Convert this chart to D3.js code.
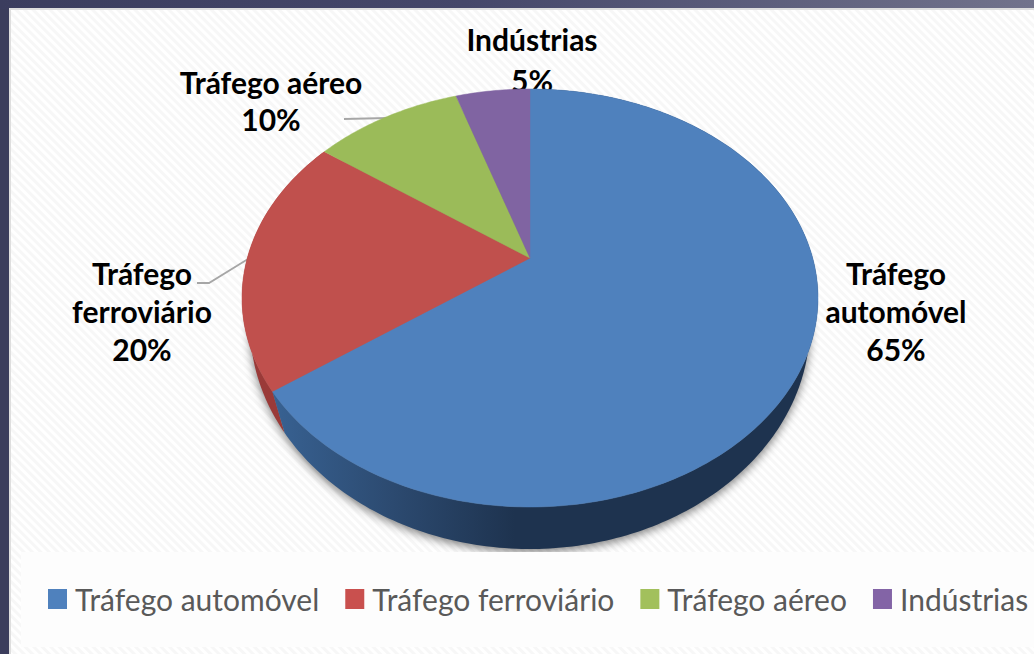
<!DOCTYPE html>
<html>
<head>
<meta charset="utf-8">
<script src="https://cdn.jsdelivr.net/npm/d3@7"></script>
<style>
  html, body { margin: 0; padding: 0; background: #3b3d5c; overflow: hidden; }
  text { font-family: Lato, "Open Sans", sans-serif; }
</style>
</head>
<body>
<div class="chart"></div>
<script>
const categories = ['Tráfego automóvel', 'Tráfego ferroviário', 'Tráfego aéreo', 'Indústrias'];
const shares = [65, 20, 10, 5];
const colors = ['#4f81bd', '#c0504d', '#9bbb59', '#8064a2'];
const legendColors = ['#4f81bd', '#c9504e', '#a2c05c', '#8364a6'];
const labelLines = [['Tráfego', 'automóvel'], ['Tráfego', 'ferroviário'], ['Tráfego aéreo'], ['Indústrias']];

const width = 1034;
const height = 654;

var svg = d3.select('.chart').append('svg')
  .attr('width', width)
  .attr('height', height)
  .style('display', 'block');

var defs = svg.append('defs');

// panel hatching
var hatch = defs.append('pattern')
  .attr('id', 'hatch')
  .attr('width', 6)
  .attr('height', 6)
  .attr('patternUnits', 'userSpaceOnUse')
  .attr('patternTransform', 'rotate(45)');
hatch.append('rect').attr('width', 6).attr('height', 6).attr('fill', '#ffffff');
hatch.append('rect').attr('width', 6).attr('height', 3).attr('fill', '#f7f7f7');

var topBand = defs.append('linearGradient').attr('id', 'topBand');
topBand.append('stop').attr('offset', '0%').attr('stop-color', '#3b3d5e');
topBand.append('stop').attr('offset', '45%').attr('stop-color', '#45476a');
topBand.append('stop').attr('offset', '100%').attr('stop-color', '#72738c');

var wallBlue = defs.append('linearGradient')
  .attr('id', 'wallBlue')
  .attr('gradientUnits', 'userSpaceOnUse')
  .attr('x1', 270).attr('x2', 515).attr('y1', 0).attr('y2', 0);
wallBlue.append('stop').attr('offset', '0%').attr('stop-color', '#386293');
wallBlue.append('stop').attr('offset', '50%').attr('stop-color', '#2c4a70');
wallBlue.append('stop').attr('offset', '100%').attr('stop-color', '#1e334f');

var blur = defs.append('filter').attr('id', 'blur')
  .attr('x', '-10%').attr('y', '-10%').attr('width', '120%').attr('height', '120%');
blur.append('feGaussianBlur').attr('stdDeviation', 5);

// background and panel
svg.append('rect').attr('width', width).attr('height', height).attr('fill', '#3b3d5c');
svg.append('rect').attr('width', width).attr('height', 9).attr('fill', 'url(#topBand)');
svg.append('rect').attr('x', 9).attr('y', 8).attr('width', width - 9).attr('height', height - 8).attr('fill', '#dedede');
svg.append('rect').attr('x', 11).attr('y', 10).attr('width', width - 11).attr('height', height - 10).attr('fill', 'url(#hatch)');

// scales from the unit disc to the ellipse of the top face and of the base
const xTop = d3.scaleLinear().domain([-1, 1]).range([242, 818]);
const yTop = d3.scaleLinear().domain([-1, 1]).range([89, 507]);
const xBase = d3.scaleLinear().domain([-1, 1]).range([250, 810]);
const yBase = d3.scaleLinear().domain([-1, 1]).range([101, 549]);
const color = d3.scaleOrdinal().domain(categories).range(colors);
const legendColor = d3.scaleOrdinal().domain(categories).range(legendColors);

// perspective: the centre of the pie sits above the centre of the ellipse
const tilt = 0.191;
// the seam on the wall leans a little towards the centre
const seamLean = 0.035;

function disc(angle) {
  var u = Math.sin(angle);
  var w = -Math.cos(angle);
  var d = 1 - tilt * w;
  return [u * Math.sqrt(1 - tilt * tilt) / d, (w - tilt) / d];
}

function rim(a0, a1, xs, ys) {
  var n = Math.max(2, Math.ceil((a1 - a0) * 60));
  return d3.range(n + 1).map(i => {
    var p = disc(a0 + (a1 - a0) * i / n);
    return [xs(p[0]), ys(p[1])];
  });
}

const line = d3.line();
const slices = d3.pie().sort(null).value(d => d)(shares);
const rimPoints = rim(0, 2 * Math.PI, xBase, yBase);

// shadow under the base
svg.append('path')
  .attr('d', line(rimPoints) + 'Z')
  .attr('transform', 'translate(0,3)')
  .attr('fill', '#000')
  .attr('opacity', 0.5)
  .attr('filter', 'url(#blur)');

// legend band hides the bottom of the shadow
svg.append('rect')
  .attr('x', 21).attr('y', 552)
  .attr('width', width - 21).attr('height', 95)
  .attr('fill', '#fdfdfd');

// data labels, the top face cuts the bottom of the 5%
const labelPos = [[896, 285], [142, 285], [271, 94], [532, 51]];
const lineGaps = [38, 38, 37, 41];
categories.forEach((c, i) => {
  var lines = labelLines[i].concat([shares[i] + '%']);
  var label = svg.append('text')
    .attr('class', 'data-label')
    .attr('text-anchor', 'middle')
    .attr('font-size', 30)
    .attr('font-weight', 700)
    .attr('fill', '#000');
  lines.forEach((t, k) => {
    label.append('tspan')
      .attr('x', labelPos[i][0])
      .attr('y', labelPos[i][1] + k * lineGaps[i])
      .text(t);
  });
});

// leader lines
const leaders = [
  [[197, 283], [209, 283], [248, 259]],
  [[344, 119], [388, 118]]
];
leaders.forEach(l => {
  svg.append('path')
    .attr('d', line(l))
    .attr('fill', 'none')
    .attr('stroke', '#a6a6a6')
    .attr('stroke-width', 1.8);
});

// side wall, red first so the blue one lies over it
[slices[1], slices[0]].forEach(s => {
  var up = rim(s.startAngle, s.endAngle, xTop, yTop);
  var down = s.index === 0
    ? rim(s.startAngle, s.endAngle - seamLean, xBase, yBase).reverse()
    : rim(s.startAngle - seamLean, s.endAngle, xBase, yBase).reverse();
  svg.append('path')
    .attr('d', line(up.concat(down)) + 'Z')
    .attr('fill', s.index === 0 ? 'url(#wallBlue)' : '#9a3a38');
});

// top face
const apex = [xTop(0), yTop(-tilt)];
slices.forEach((s, i) => {
  svg.append('path')
    .attr('d', line([apex].concat(rim(s.startAngle, s.endAngle, xTop, yTop))) + 'Z')
    .attr('fill', color(categories[i]))
    .attr('stroke', color(categories[i]))
    .attr('stroke-width', 0.5);
});

// legend
var legendX = 48;
categories.forEach(c => {
  svg.append('rect')
    .attr('x', legendX).attr('y', 589)
    .attr('width', 19).attr('height', 20)
    .attr('fill', legendColor(c));
  var t = svg.append('text')
    .attr('x', legendX + 27).attr('y', 611)
    .attr('font-size', 30)
    .attr('fill', '#595959')
    .text(c);
  legendX += 27 + t.node().getComputedTextLength() + 26;
});
</script>
</body>
</html>
